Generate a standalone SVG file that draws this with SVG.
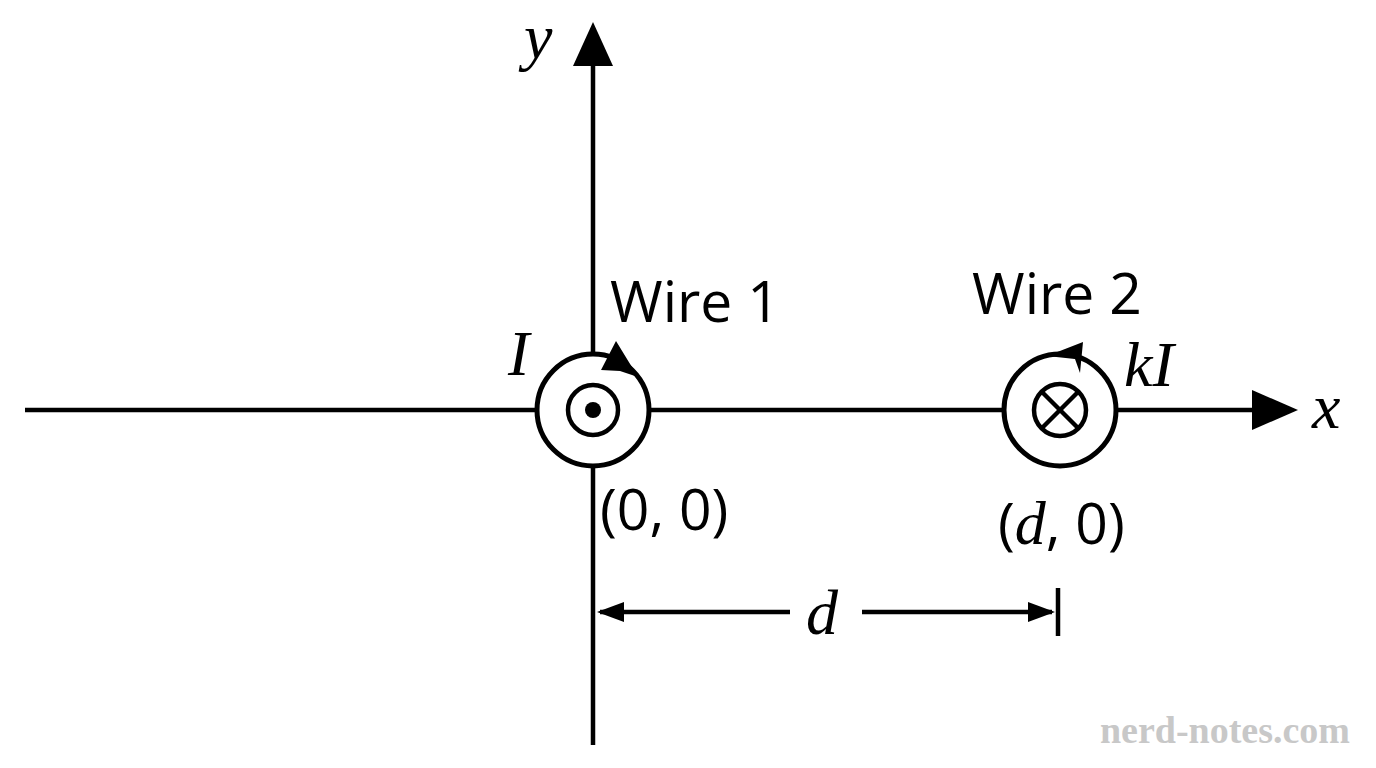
<svg xmlns="http://www.w3.org/2000/svg" width="1376" height="768" viewBox="0 0 1376 768">
<style>
.l{stroke:#000;stroke-width:4.5;fill:none}
.m{font-family:"Liberation Serif",serif;font-style:italic;font-size:64px}
.s{font-family:"Open Sans","Liberation Sans",sans-serif;font-size:57px}
</style>
<rect width="1376" height="768" fill="#fff"/>
<g id="connectors">
<line class="l" x1="25" y1="410" x2="1255" y2="410"/>
<path d="M1252,390L1298,410L1252,430z"/>
<line class="l" x1="593" y1="745" x2="593" y2="60"/>
<path d="M573,66L593,22L613,66z"/>
<line class="l" x1="600" y1="612" x2="790" y2="612"/>
<line class="l" x1="862" y1="612" x2="1052" y2="612"/>
<path d="M597,612L624,602L624,622z"/>
<path d="M1055,612L1028,602L1028,622z"/>
<line class="l" x1="1058" y1="588" x2="1058" y2="636"/>
</g>
<g id="wire1">
<circle cx="593" cy="410" r="56" fill="#fff" stroke="#000" stroke-width="5"/>
<circle cx="593" cy="410" r="25" class="l"/>
<circle cx="593" cy="410" r="8"/>
<path d="M601,370L616,341L638,377L620,371z"/>
</g>
<g id="wire2">
<circle cx="1060" cy="410" r="56" fill="#fff" stroke="#000" stroke-width="5"/>
<circle cx="1060" cy="410" r="26" class="l"/>
<line class="l" x1="1042" y1="392" x2="1078" y2="428"/>
<line class="l" x1="1078" y1="392" x2="1042" y2="428"/>
<path d="M1047,356L1083,342L1080,373L1075,359z"/>
</g>
<g id="labels">
<text class="m" x="524" y="58">y</text>
<text class="m" x="1312" y="428">x</text>
<text class="m" x="508" y="375">I</text>
<text class="m" x="1124" y="386">kI</text>
<text class="s" x="610" y="322">Wire 1</text>
<text class="s" x="972" y="314">Wire 2</text>
<text class="s" x="600" y="530">(0, 0)</text>
<text class="s" x="998" y="544">(<tspan font-family="Liberation Serif,serif" font-style="italic" font-size="62">d</tspan>, 0)</text>
<text class="m" x="806" y="634">d</text>
<text x="1350" y="743" text-anchor="end" font-family="Liberation Serif,serif" font-weight="bold" font-size="38" fill="#c8c8c8">nerd-notes.com</text>
</g>
</svg>
